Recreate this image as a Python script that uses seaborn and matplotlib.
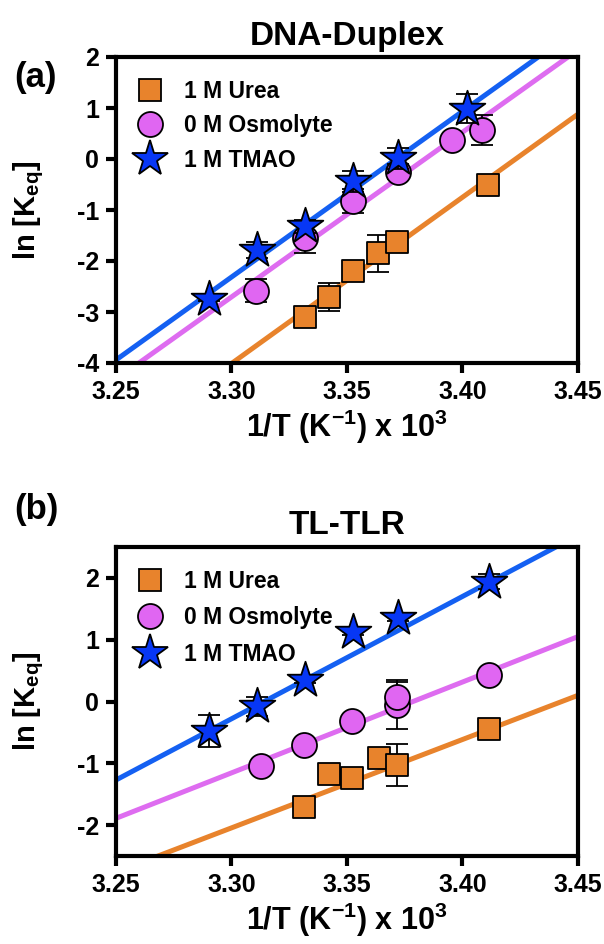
import matplotlib
matplotlib.use("Agg")
import matplotlib.pyplot as plt
from matplotlib.lines import Line2D
import numpy as np
import pandas as pd
import seaborn as sns

# ---- (a) DNA-Duplex ----
invT_urea_a = [3.332, 3.342, 3.3527, 3.3633, 3.3716, 3.4112]
lnK_urea_a = [-3.10, -2.71, -2.20, -1.85, -1.62, -0.50]
err_urea_a = [0.0, 0.28, 0.0, 0.36, 0.10, 0.0]

invT_osm_a = [3.3104, 3.332, 3.3527, 3.372, 3.3953, 3.4083]
lnK_osm_a = [-2.58, -1.55, -0.82, -0.25, 0.37, 0.57]
err_osm_a = [0.23, 0.30, 0.23, 0.15, 0.10, 0.30]

invT_tmao_a = [3.2903, 3.311, 3.332, 3.3527, 3.372, 3.402]
lnK_tmao_a = [-2.74, -1.78, -1.32, -0.44, 0.01, 0.99]
err_tmao_a = [0.05, 0.16, 0.13, 0.20, 0.20, 0.29]

# linear fits: value at 1/T = 3.25 and slope
fit_a = {"urea": (-5.64, 32.6), "osm": (-4.32, 32.3), "tmao": (-3.94, 32.5)}

# ---- (b) TL-TLR ----
invT_urea_b = [3.3314, 3.3423, 3.3523, 3.364, 3.3716, 3.4116]
lnK_urea_b = [-1.70, -1.17, -1.24, -0.92, -1.02, -0.45]
err_urea_b = [0.0, 0.05, 0.0, 0.0, 0.34, 0.0]

invT_osm_b = [3.3129, 3.3314, 3.352, 3.3716, 3.3716, 3.4116]
lnK_osm_b = [-1.05, -0.70, -0.31, -0.05, 0.07, 0.43]
err_osm_b = [0.0, 0.0, 0.08, 0.40, 0.24, 0.0]

invT_tmao_b = [3.2903, 3.311, 3.332, 3.3527, 3.372, 3.4116]
lnK_tmao_b = [-0.48, -0.08, 0.35, 1.12, 1.35, 1.94]
err_tmao_b = [0.26, 0.16, 0.05, 0.05, 0.05, 0.12]

fit_b = {"urea": (-2.76, 14.3), "osm": (-1.89, 14.7), "tmao": (-1.27, 19.8)}

labels = {"urea": "1 M Urea", "osm": "0 M Osmolyte", "tmao": "1 M TMAO"}
x_ticks = [3.25, 3.30, 3.35, 3.40, 3.45]

sns.set_style("white")
plt.rcParams["font.family"] = ["Liberation Sans", "DejaVu Sans"]
plt.rcParams["font.weight"] = "bold"
plt.rcParams["text.color"] = "black"
plt.rcParams["axes.labelcolor"] = "black"
plt.rcParams["xtick.color"] = "black"
plt.rcParams["ytick.color"] = "black"
plt.rcParams["mathtext.fontset"] = "custom"
plt.rcParams["mathtext.rm"] = "Liberation Sans:bold"
plt.rcParams["mathtext.it"] = "Liberation Sans:bold"
plt.rcParams["mathtext.bf"] = "Liberation Sans:bold"

fill = {"urea": "#E8832C", "osm": "#E066F2", "tmao": "#0737F5"}
line_col = {"urea": "#E8832C", "osm": "#DE6CF0", "tmao": "#1460F2"}
marker = {"urea": "s", "osm": "o", "tmao": "*"}
msize = {"urea": 16.5, "osm": 18, "tmao": 27}
order = ["urea", "osm", "tmao"]

fig = plt.figure(figsize=(6.04, 9.44), dpi=100)
ax_a = fig.add_axes([116 / 604, 1 - 363 / 944, 462 / 604, 306 / 944])
ax_b = fig.add_axes([116 / 604, 1 - 856 / 944, 462 / 604, 309 / 944])


def draw_panel(ax, series, fits, ylim, yticks, title, tag, tag_y, spacing):
    xs = np.array([3.25, 3.45])
    for key in order:
        b0, m = fits[key]
        fit_df = pd.DataFrame({"x": xs, "y": b0 + m * (xs - 3.25)})
        sns.lineplot(data=fit_df, x="x", y="y", ax=ax, color=line_col[key],
                     lw=3.6, zorder=1, legend=False)
    for z, key in enumerate(order):
        x, y, e = series[key]
        e = np.array(e)
        mask = e > 0
        ax.errorbar(np.array(x)[mask], np.array(y)[mask], yerr=e[mask], fmt="none",
                    ecolor="black", elinewidth=1.3, capsize=8, capthick=1.3,
                    zorder=2 + z)
        df = pd.DataFrame({"x": x, "y": y})
        sns.scatterplot(data=df, x="x", y="y", ax=ax, marker=marker[key],
                        s=msize[key] ** 2, color=fill[key], edgecolor="black",
                        linewidth=1.3, zorder=3 + z, legend=False)
    ax.set_xlim(3.25, 3.45)
    ax.set_ylim(*ylim)
    ax.set_xticks(x_ticks)
    ax.set_xticklabels([f"{t:.2f}" for t in x_ticks])
    ax.set_yticks(yticks)
    ax.set_yticklabels([f"{t:d}" for t in yticks])
    ax.tick_params(axis="both", direction="out", length=7, width=3,
                   labelsize=18, pad=5, bottom=True, left=True, colors="black")
    for lab in ax.get_xticklabels() + ax.get_yticklabels():
        lab.set_fontweight("bold")
    for sp in ax.spines.values():
        sp.set_linewidth(3)
        sp.set_color("black")
    ax.set_xlabel(r"1/T (K$^{-1}$) x 10$^{3}$", fontsize=22, fontweight="bold",
                  labelpad=3)
    ax.set_ylabel(r"ln [K$_{eq}$]", fontsize=21, fontweight="bold", va="center")
    ax.yaxis.set_label_coords(-0.19, 0.5)
    ax.set_title(title, fontsize=24, fontweight="bold", pad=9)
    fig.text(36 / 604, 1 - tag_y / 944, tag, fontsize=25, fontweight="bold",
             ha="center", va="center")
    handles = [Line2D([], [], ls="none", marker=marker[k], markersize=msize[k],
                      markerfacecolor=fill[k], markeredgecolor="black",
                      markeredgewidth=1.3) for k in order]
    ax.legend(handles, [labels[k] for k in order], loc="upper left",
              bbox_to_anchor=(0.025, 0.955), frameon=False,
              handletextpad=0.85, labelspacing=spacing, borderaxespad=0,
              handlelength=1.2, prop={"weight": "bold", "size": 16.5})


series_a = {"urea": (invT_urea_a, lnK_urea_a, err_urea_a),
            "osm": (invT_osm_a, lnK_osm_a, err_osm_a),
            "tmao": (invT_tmao_a, lnK_tmao_a, err_tmao_a)}
series_b = {"urea": (invT_urea_b, lnK_urea_b, err_urea_b),
            "osm": (invT_osm_b, lnK_osm_b, err_osm_b),
            "tmao": (invT_tmao_b, lnK_tmao_b, err_tmao_b)}

draw_panel(ax_a, series_a, fit_a, (-4, 2), list(range(-4, 3)), "DNA-Duplex",
           "(a)", 78, 0.5)
draw_panel(ax_b, series_b, fit_b, (-2.5, 2.5), list(range(-2, 3)), "TL-TLR",
           "(b)", 510, 0.58)

fig.savefig("out.png", dpi=100)
